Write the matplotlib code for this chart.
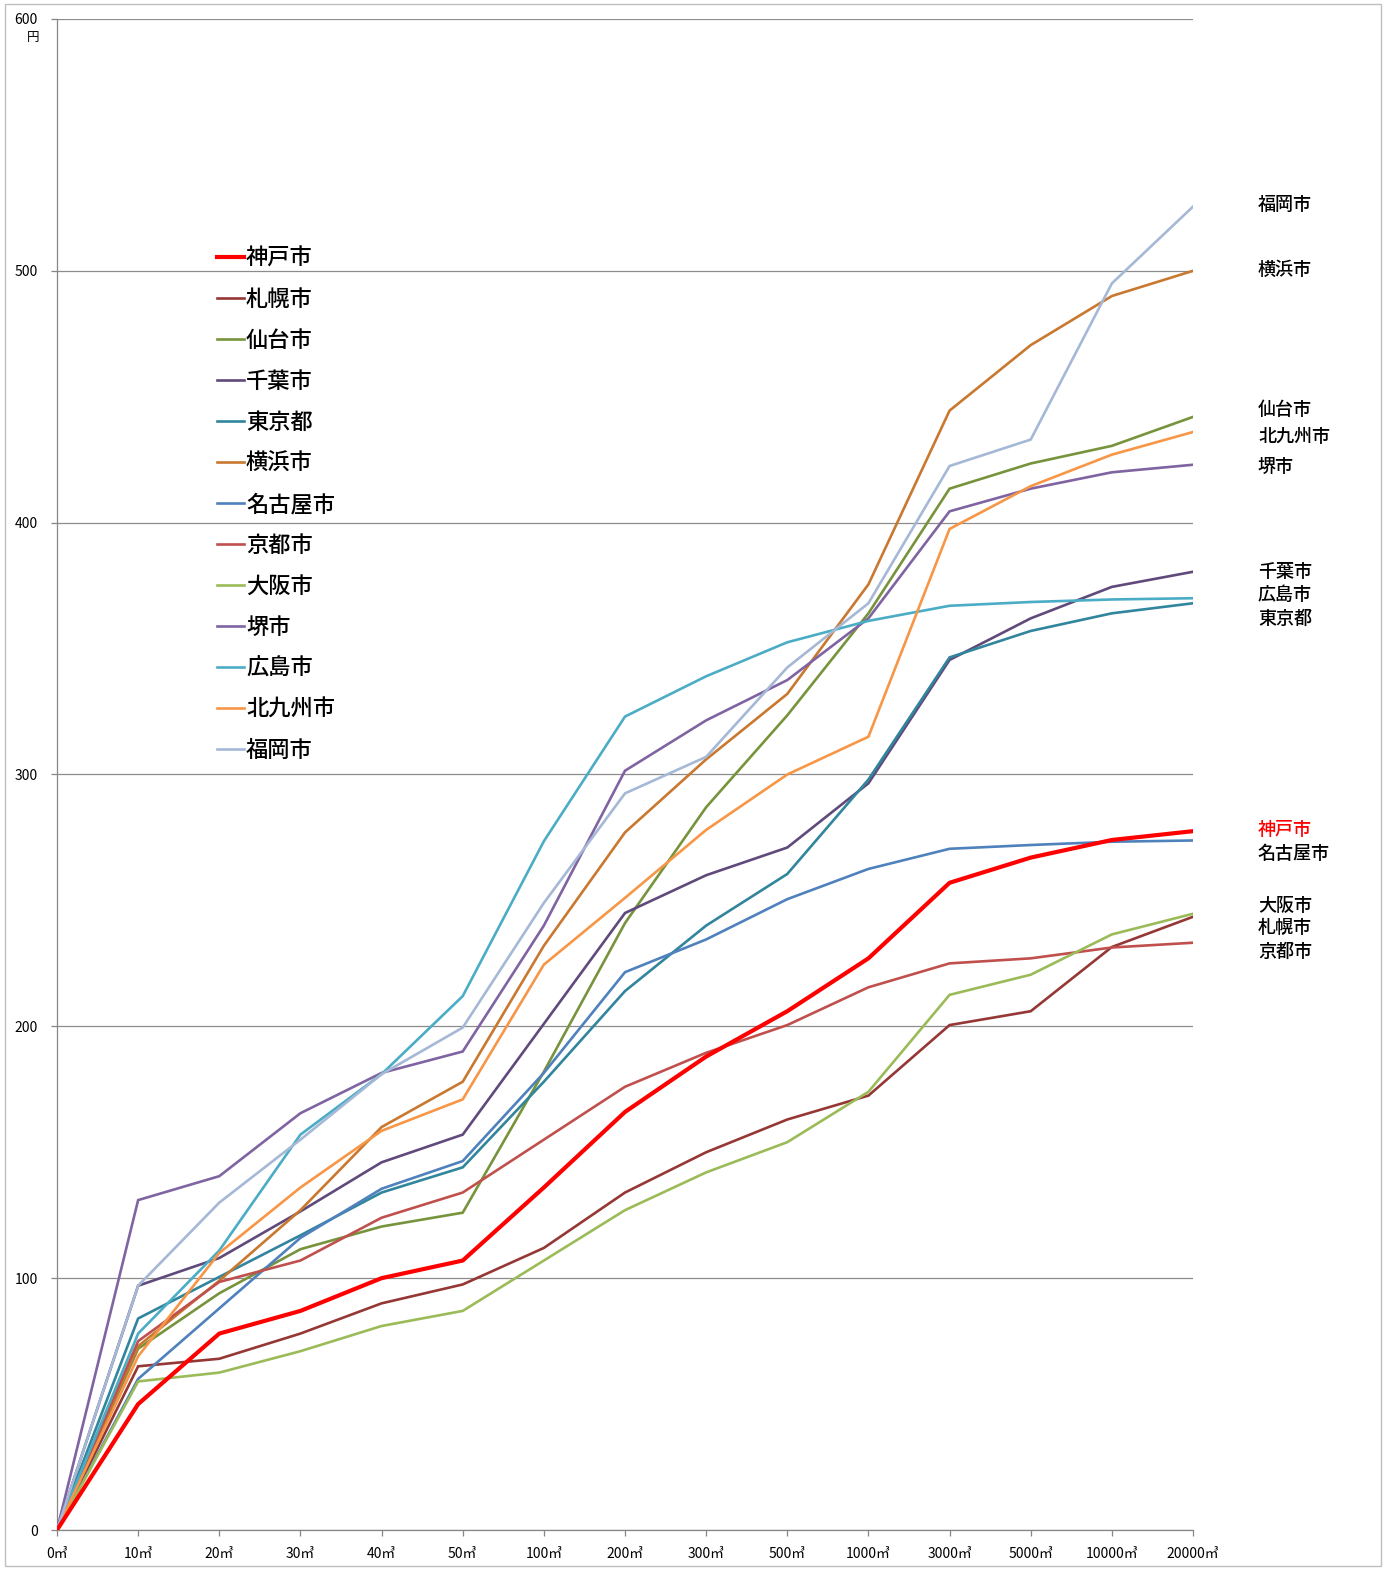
import matplotlib
matplotlib.use("Agg")
import matplotlib.pyplot as plt
from matplotlib.patches import Rectangle

plt.rcParams['font.family'] = ['Noto Sans CJK JP', 'DejaVu Sans']

# ---- data ----
categories = ["0㎥", "10㎥", "20㎥", "30㎥", "40㎥", "50㎥", "100㎥", "200㎥", "300㎥",
              "500㎥", "1000㎥", "3000㎥", "5000㎥", "10000㎥", "20000㎥"]

cities = ["神戸市", "札幌市", "仙台市", "千葉市", "東京都", "横浜市", "名古屋市",
          "京都市", "大阪市", "堺市", "広島市", "北九州市", "福岡市"]

kobe      = [0, 50, 78, 87, 100, 107, 136, 166, 188, 206, 227, 257, 267, 274, 277.5]
sapporo   = [0, 65, 68, 78, 90, 97.5, 112, 134, 150, 163, 172.5, 200.5, 206, 231.5, 243.5]
sendai    = [0, 72, 94, 111.5, 120.5, 126, 182, 241, 287, 323.5, 364, 413.5, 423.5, 430.5, 442]
chiba     = [0, 97, 108, 126.5, 146, 157, 201, 245, 260, 271, 296.5, 345.5, 362, 374.5, 380.5]
tokyo     = [0, 84, 100.5, 117, 134, 144, 178, 214, 240, 260.5, 298, 346.5, 357, 364, 368]
yokohama  = [0, 73, 99, 127, 160, 178, 232, 277, 306, 332, 375.5, 444.5, 470.5, 490, 500]
nagoya    = [0, 60, 88, 116, 135.5, 146.5, 181.5, 221.5, 234.5, 250.5, 262.5, 270.5, 272, 273.3, 273.8]
kyoto     = [0, 75, 98.5, 107, 124, 134, 155, 176, 189.5, 200.5, 215.5, 225, 227, 231.3, 233.2]
osaka     = [0, 59, 62.5, 71, 81, 87, 107, 127, 142, 154, 174, 212.5, 220.5, 236.5, 244.7]
sakai     = [0, 131, 140.5, 165.5, 181.5, 190, 240, 301.5, 321.5, 337.5, 362, 404.5, 413.5, 420, 423]
hiroshima = [0, 78, 111, 157, 181, 212, 273.5, 323, 339, 352.5, 361, 367, 368.5, 369.5, 370]
kitakyu   = [0, 69, 110, 136, 158.5, 171, 224.5, 251, 278, 300, 315, 397.5, 414.5, 427, 436]
fukuoka   = [0, 97, 130, 155, 181, 199.5, 249, 292.5, 307, 342.5, 368, 422.5, 433, 495, 525.5]

series = [kobe, sapporo, sendai, chiba, tokyo, yokohama, nagoya,
          kyoto, osaka, sakai, hiroshima, kitakyu, fukuoka]

colors = ["#FF0000", "#953735", "#77933C", "#604A7B", "#31859C", "#C9782F", "#4F81BD",
          "#C0504D", "#9BBB59", "#8064A2", "#4BACC6", "#F79646", "#A5B8D6"]

y_ticks = [0, 100, 200, 300, 400, 500, 600]

# right-hand annotations: (text, y pixel, color)
right_labels = [("福岡市", 205, "black"), ("横浜市", 270, "black"),
                ("仙台市", 410, "black"), ("北九州市", 437, "black"), ("堺市", 467, "black"),
                ("千葉市", 572, "black"), ("広島市", 595, "black"), ("東京都", 619, "black"),
                ("神戸市", 830, "#FF0000"), ("名古屋市", 854, "black"),
                ("大阪市", 906, "black"), ("札幌市", 928, "black"), ("京都市", 952, "black")]

W, H = 1391, 1570
fig = plt.figure(figsize=(W / 100, H / 100), dpi=100)
ax = fig.add_axes([57 / W, 40 / H, (1193 - 57) / W, (1530 - 19) / H])

x = list(range(len(categories)))
for name, vals, c in zip(cities, series, colors):
    lw = 3.0 if name == "神戸市" else 1.9
    z = 5 if name == "神戸市" else 3
    ax.plot(x, vals, color=c, lw=lw, label=name, zorder=z, solid_joinstyle='miter')

ax.set_xlim(0, len(categories) - 1)
ax.set_ylim(0, 600)
ax.set_xticks(x)
ax.set_xticklabels(categories, fontsize=10)
ax.set_yticks(y_ticks)
ax.set_yticklabels([str(v) for v in y_ticks], fontsize=10)
ax.grid(axis='y', color='#8C8C8C', lw=0.9, zorder=1)
ax.set_axisbelow(True)
for s in ['top', 'right']:
    ax.spines[s].set_visible(False)
for s in ['left', 'bottom']:
    ax.spines[s].set_color('#868686')
    ax.spines[s].set_linewidth(0.9)
ax.tick_params(axis='both', colors='#868686', length=4, width=0.9, labelcolor='black')
ax.tick_params(axis='x', pad=8)
ax.tick_params(axis='y', pad=10)

# unit label
fig.text(33 / W, 1 - 37 / H, "円", fontsize=9, ha='center', va='center')

leg = ax.legend(loc='upper left', bbox_to_anchor=(206 / W, 1 - 236 / H),
                bbox_transform=fig.transFigure, frameon=False,
                handlelength=1.2, handletextpad=0.1, labelspacing=0.81, borderpad=0,
                prop={'size': 16, 'weight': 'medium'})

for txt, yp, c in right_labels:
    fig.text(1258 / W, 1 - yp / H, txt, fontsize=13, color=c, ha='left', va='center',
             fontweight='medium')

fig.add_artist(Rectangle((5 / W, 4 / H), (1381 - 5) / W, (1566 - 4) / H,
                         transform=fig.transFigure, fill=False,
                         edgecolor='#BFBFBF', lw=1.0))

fig.savefig("out.png", dpi=100, facecolor='white')
